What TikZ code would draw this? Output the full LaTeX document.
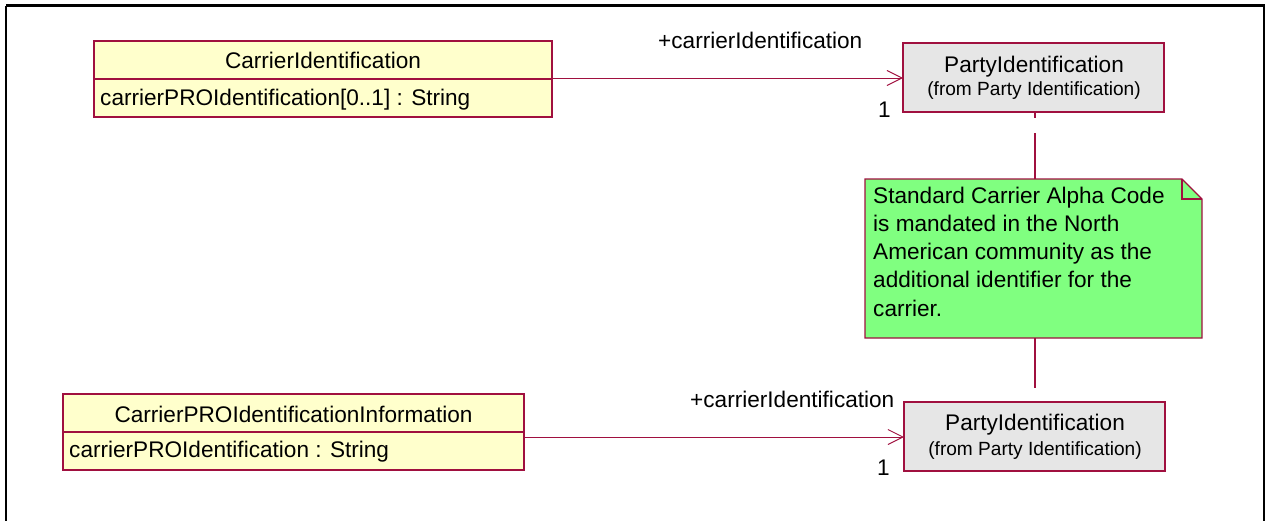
\documentclass[tikz,border=0pt]{standalone}
\usepackage{fontspec}
\setmainfont{Liberation Sans}
\usetikzlibrary{arrows.meta}
\definecolor{umlred}{HTML}{A0103F}
\definecolor{classfill}{HTML}{FFFFCC}
\definecolor{partyfill}{HTML}{E6E6E6}
\definecolor{notefill}{HTML}{80FF80}
\tikzset{
  big/.style={font=\fontsize{22.6}{28.3}\selectfont, inner sep=0pt},
  small/.style={font=\fontsize{19.1}{22}\selectfont, inner sep=0pt},
  boxline/.style={draw=umlred, line width=1.1pt},
  assoc/.style={draw=umlred, line width=1pt, -{Straight Barb[length=15pt, width=15pt, line width=1pt]}},
  anchorline/.style={draw=umlred, line width=1.2pt},
}
\begin{document}
\begin{tikzpicture}[x=1pt, y=-1pt]
\useasboundingbox (0,0) rectangle (1266,520);
\draw[black, line width=2.2pt] (6,5.5) -- (1264,5.5) -- (1264,525) (6,525) -- (6,5.5);

% class 1
\path[boxline, fill=classfill] (94,41) rectangle (552,117);
\draw[boxline] (94,79) -- (552,79);
\coordinate (c1e) at (552,78);
\node[big, anchor=base] (c1n) at (323,68) {CarrierIdentification};
\node[big, anchor=base west] (c1a) at (100,105) {carrierPROIdentification[0..1] : String};

% class 2
\path[boxline, fill=classfill] (63,394) rectangle (524,470);
\draw[boxline] (63,432) -- (524,432);
\coordinate (c2e) at (524,437);
\node[big, anchor=base] (c2n) at (293.5,422) {CarrierPROIdentificationInformation};
\node[big, anchor=base west] (c2a) at (69,457) {carrierPROIdentification : String};

% party 1
\path[boxline, fill=partyfill] (903,43) rectangle (1164,112);
\coordinate (p1w) at (903,78);
\coordinate (p1s) at (1035,112);
\node[big, anchor=base] (p1n) at (1034,72) {PartyIdentification};
\node[small, anchor=base] (p1f) at (1034,95) {(from Party Identification)};

% party 2
\path[boxline, fill=partyfill] (904,402) rectangle (1165,471);
\coordinate (p2w) at (904,437);
\coordinate (p2n) at (1035,402);
\node[big, anchor=base] (p2t) at (1035,430) {PartyIdentification};
\node[small, anchor=base] (p2f) at (1035,455) {(from Party Identification)};

% note
\path[boxline, fill=notefill] (865,179) -- (1182,179) -- (1202,199) -- (1202,338) -- (865,338) -- cycle;
\draw[boxline] (1182,179) -- (1182,199) -- (1202,199);
\coordinate (nn) at (1035,179);
\coordinate (ns) at (1035,338);
\node[big, anchor=north west, align=left] (nt) at (873,186.5) {Standard Carrier Alpha Code\\is mandated in the North\\American community as the\\additional identifier for the\\carrier.};

% associations
\draw[assoc] (c1e) -- (p1w);
\draw[assoc] (c2e) -- (p2w);
\node[big, anchor=base west] (l1) at (658,48) {+carrierIdentification};
\node[big, anchor=base west] (m1) at (878,117) {1};
\node[big, anchor=base west] (l2) at (690,407) {+carrierIdentification};
\node[big, anchor=base west] (m2) at (877,475) {1};

% anchor lines
\draw[anchorline] (p1s) -- ++(0,5.5);
\draw[anchorline] (nn) -- ++(0,-46);
\draw[anchorline] (ns) -- ++(0,50);
\end{tikzpicture}
\end{document}
